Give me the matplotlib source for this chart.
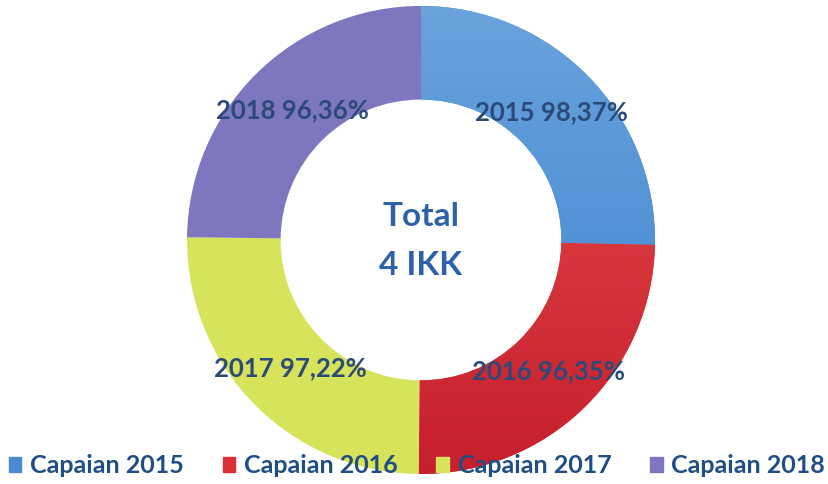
import matplotlib
matplotlib.use('Agg')
import matplotlib.pyplot as plt
from matplotlib.colors import LinearSegmentedColormap
import numpy as np

years = ['2015', '2016', '2017', '2018']
capaian = [98.37, 96.35, 97.22, 96.36]
legend_labels = ['Capaian 2015', 'Capaian 2016', 'Capaian 2017', 'Capaian 2018']
colors = ['#4a8ad4', '#dc3038', '#d6e35b', '#7f76c0']
# top -> bottom shading for the blue and red segments
shades = {0: ('#6aa2dc', '#3a82d0'), 1: ('#e8504a', '#c61f2e')}

plt.rcParams['font.family'] = ['Lato', 'DejaVu Sans']

fig = plt.figure(figsize=(8.29, 4.84), dpi=100)
fig.patch.set_facecolor('white')

# square axes so the ring stays round
ax = fig.add_axes([0.2256, 0.0207, 0.5645, 0.967])
wedges, _ = ax.pie(capaian, colors=colors, startangle=90, counterclock=False,
                   radius=1.0, wedgeprops=dict(width=0.4, edgecolor='none'))

grad = np.linspace(0, 1, 256).reshape(-1, 1)
for i, (top, bottom) in shades.items():
    cmap = LinearSegmentedColormap.from_list(f'shade{i}', [top, bottom])
    im = ax.imshow(grad, cmap=cmap, extent=[-1, 1, -1, 1], origin='upper',
                   aspect='auto', zorder=wedges[i].get_zorder() + 0.1)
    im.set_clip_path(wedges[i])
ax.set_xlim(-1, 1)
ax.set_ylim(-1, 1)
ax.axis('off')

# value labels in the middle of each ring segment
for w, yr, val in zip(wedges, years, capaian):
    ang = np.deg2rad((w.theta1 + w.theta2) / 2)
    r = 0.78
    txt = f'{yr} {val:.2f}%'.replace('.', ',')
    ax.text(r * np.cos(ang), r * np.sin(ang), txt, ha='center', va='center',
            fontsize=18.5, fontweight='bold', color='#2b4a7a', zorder=5)

ax.text(0, 0.1, 'Total', ha='center', va='center', fontsize=24,
        fontweight='bold', color='#2e62a8', zorder=5)
ax.text(0, -0.11, '4 IKK', ha='center', va='center', fontsize=24,
        fontweight='bold', color='#2e62a8', zorder=5)

handles = [plt.Rectangle((0, 0), 1, 1, color=c) for c in colors]
fig.legend(handles, legend_labels, loc='lower center', ncol=4,
           bbox_to_anchor=(0.503, -0.033), frameon=False, handlelength=0.5,
           handleheight=0.5, handletextpad=0.35, columnspacing=1.55,
           prop=dict(size=18, weight='bold'), labelcolor='#1f4e85')

fig.savefig('out.png', dpi=100, facecolor='white')
